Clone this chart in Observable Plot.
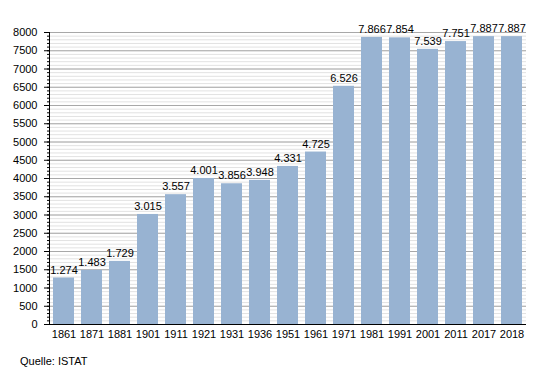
<!DOCTYPE html>
<html><head><meta charset="utf-8">
<script src="https://cdn.jsdelivr.net/npm/d3@7"></script>
<script src="https://cdn.jsdelivr.net/npm/@observablehq/plot@0.6"></script>
<style>
body{margin:0;background:#fff;font-family:"Liberation Sans",Arial,sans-serif;}
#cap{font-size:11px;margin:9px 0 0 20px;line-height:14px;color:#000;}
</style>
</head><body>
<div id="chart"></div>
<div id="cap">Quelle: ISTAT</div>
<script>
const years = ["1861","1871","1881","1901","1911","1921","1931","1936","1951","1961","1971","1981","1991","2001","2011","2017","2018"];
const population = [1274,1483,1729,3015,3557,4001,3856,3948,4331,4725,6526,7866,7854,7539,7751,7887,7887];
const yTicks = [0,500,1000,1500,2000,2500,3000,3500,4000,4500,5000,5500,6000,6500,7000,7500,8000];

const data = years.map((y,i)=>({year:y, value:population[i]}));
const minor = d3.range(0, 8001, 100);
const fmt = v => d3.format(",")(v).replace(/,/g, ".");

const plot = Plot.plot({
  width: 555, height: 345,
  marginLeft: 49, marginRight: 29, marginTop: 32, marginBottom: 21,
  style: {fontFamily: "Liberation Sans, Arial, sans-serif", fontSize: "11px", color: "#000"},
  x: {domain: years, paddingInner: 0.26, paddingOuter: 0.05, label: null},
  y: {domain: [0, 8000], label: null},
  marks: [
    Plot.ruleY(minor, {stroke: "#e2e2e2", strokeWidth: 1}),
    Plot.ruleY(yTicks, {stroke: "#a8a8a8", strokeWidth: 1}),
    Plot.barY(data, {x: "year", y: "value", fill: "#98b3d2"}),
    Plot.text(data, {x: "year", y: "value", text: d => fmt(d.value), dy: -8, fontSize: 11, fill: "#000", style: "letter-spacing:-0.2px"}),
    Plot.axisY({ticks: minor, tickSize: 2, tickFormat: () => "", label: null, stroke: "#000"}),
    Plot.axisY({ticks: yTicks, tickSize: 5, tickPadding: 7, tickFormat: d => String(d), label: null, fontSize: 11}),
    Plot.frame({anchor: "left", stroke: "#000"}),
    Plot.axisX({tickSize: 0, tickPadding: 6, label: null, fontSize: 11}),
    Plot.ruleY([0], {stroke: "#000"})
  ]
});
document.getElementById("chart").appendChild(plot);
</script>
</body></html>
